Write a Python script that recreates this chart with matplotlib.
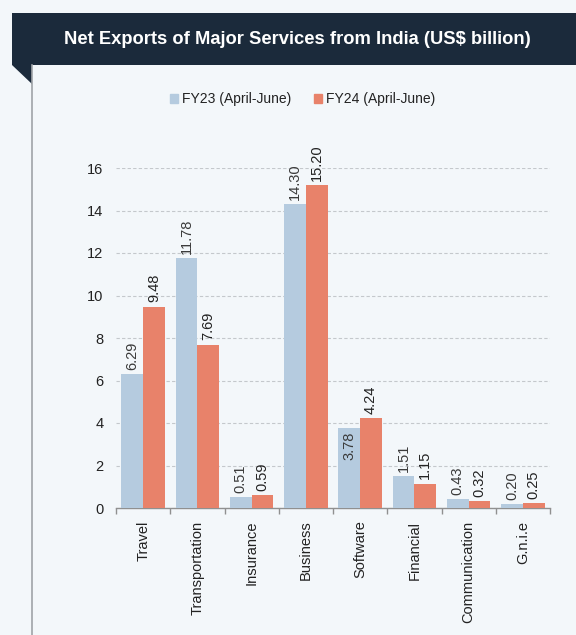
import numpy as np
import matplotlib
matplotlib.use("Agg")
import matplotlib.pyplot as plt
from matplotlib.patches import Rectangle, Polygon, Patch
from matplotlib.lines import Line2D

plt.rcParams['font.family'] = ['Liberation Sans', 'DejaVu Sans']

# Net exports by service category, US$ billion
categories = ["Travel", "Transportation", "Insurance", "Business", "Software",
              "Financial", "Communication", "G.n.i.e"]
fy23 = [6.29, 11.78, 0.51, 14.30, 3.78, 1.51, 0.43, 0.20]
fy24 = [9.48, 7.69, 0.59, 15.20, 4.24, 1.15, 0.32, 0.25]
series_names = ["FY23 (April-June)", "FY24 (April-June)"]
yticks = [0, 2, 4, 6, 8, 10, 12, 14, 16]

BG = "#f3f7fa"
NAVY = "#1b2a3b"
C23 = "#b5cbdf"
C24 = "#e8826a"

W, H = 576, 635
fig = plt.figure(figsize=(W / 100, H / 100), dpi=100, facecolor=BG)

def fx(px):
    return px / W

def fy(py):
    return 1 - py / H

# header band, folded corner and left rule
fig.patches.append(Rectangle((fx(12), fy(65)), 1 - fx(12), fy(13) - fy(65),
                             transform=fig.transFigure, facecolor=NAVY,
                             edgecolor="none"))
fig.patches.append(Polygon([(fx(12), fy(65)), (fx(32), fy(65)), (fx(32), fy(84))],
                           closed=True, transform=fig.transFigure,
                           facecolor=NAVY, edgecolor="none"))
fig.lines.append(Line2D([fx(32), fx(32)], [fy(65), 0], transform=fig.transFigure,
                        color="#a0a4a8", lw=1.2))
fig.text(fx(297), fy(40), "Net Exports of Major Services from India (US$ billion)",
         color="white", fontsize=13.2, fontweight="bold", ha="center", va="center")

ax = fig.add_axes([fx(116), fy(508), fx(550) - fx(116), fy(168) - fy(508)])
ax.set_facecolor(BG)

x = np.arange(len(categories))
bw = 0.4
b1 = ax.bar(x - bw / 2, fy23, bw, color=C23, label=series_names[0], zorder=3)
b2 = ax.bar(x + bw / 2, fy24, bw, color=C24, label=series_names[1], zorder=3)

for bars, vals, col in [(b1, fy23, "#3a3a3a"), (b2, fy24, "#222222")]:
    for i, (rect, v) in enumerate(zip(bars, vals)):
        cx = rect.get_x() + rect.get_width() / 2
        if categories[i] == "Software" and bars is b1:
            # label sits inside the shorter bar here
            ax.annotate(f"{v:.2f}", (cx, v), xytext=(0, -3), textcoords="offset points",
                        rotation=90, ha="center", va="top", fontsize=10.5, color=col,
                        zorder=4)
        else:
            ax.annotate(f"{v:.2f}", (cx, v), xytext=(0, 3), textcoords="offset points",
                        rotation=90, ha="center", va="bottom", fontsize=10.5, color=col,
                        annotation_clip=False, zorder=4)

ax.set_xlim(-0.5, len(categories) - 0.5)
ax.set_ylim(0, 16)
ax.set_yticks(yticks)
ax.tick_params(axis="y", length=0, pad=9, labelsize=10.5, labelcolor="#222222")
ax.set_xticks(x)
ax.set_xticklabels(categories, rotation=90, fontsize=10.5, color="#222222")
ax.set_xticks(np.arange(len(categories) + 1) - 0.5, minor=True)
ax.tick_params(axis="x", which="major", length=0, pad=9)
ax.tick_params(axis="x", which="minor", length=4, color="#909090", width=1)

ax.yaxis.grid(True, color="#c4c8cc", linestyle=(0, (3, 2)), lw=0.8, zorder=0)
ax.set_axisbelow(True)
for s in ["top", "right", "left"]:
    ax.spines[s].set_visible(False)
ax.spines["bottom"].set_color("#909090")
ax.spines["bottom"].set_linewidth(1)

handles = [Patch(color=C23), Patch(color=C24)]
fig.legend(handles, series_names, loc="center left", bbox_to_anchor=(fx(170), fy(99)),
           ncol=2, frameon=False, fontsize=10, handlelength=0.6, handleheight=0.6,
           handletextpad=0.3, columnspacing=1.6, labelcolor="#222222",
           borderaxespad=0, borderpad=0)

fig.savefig("out.png", dpi=100, facecolor=BG)
